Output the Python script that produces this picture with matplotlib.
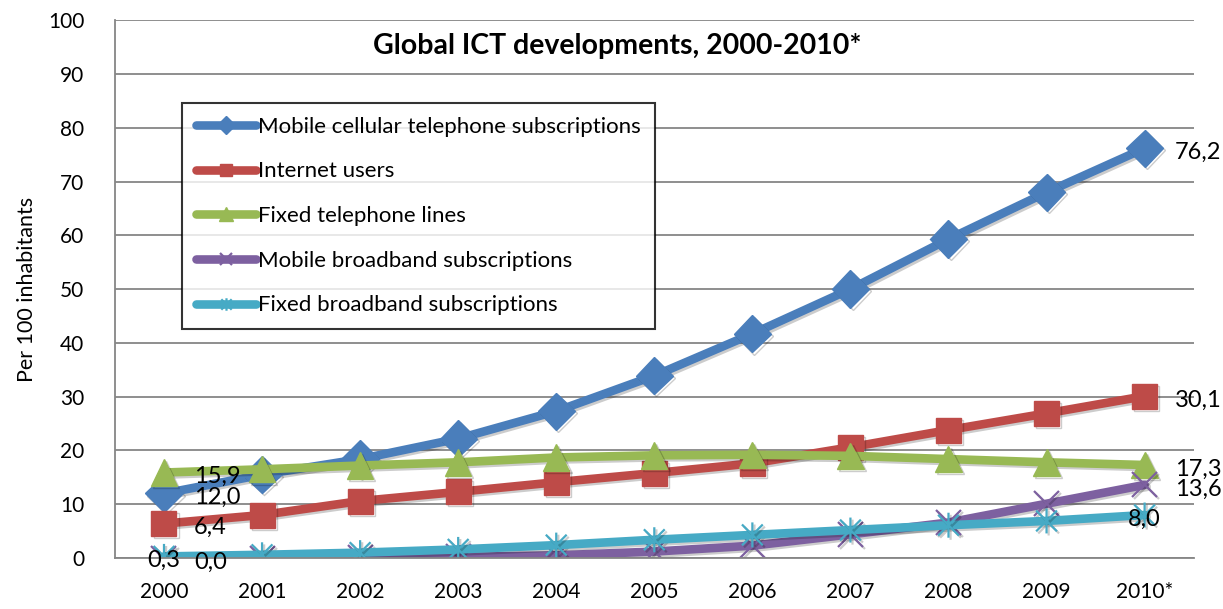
import numpy as np
import matplotlib
matplotlib.use('Agg')
import matplotlib.pyplot as plt
import matplotlib.patheffects as pe
from matplotlib.path import Path

plt.rcParams['font.family'] = ['Lato', 'DejaVu Sans']

years = ['2000', '2001', '2002', '2003', '2004', '2005', '2006', '2007', '2008', '2009', '2010*']

mobile = [12.0, 15.5, 18.4, 22.2, 27.3, 33.9, 41.7, 50.0, 59.3, 68.0, 76.2]
internet = [6.4, 8.0, 10.6, 12.3, 14.1, 15.8, 17.6, 20.6, 23.8, 26.9, 30.1]
fixed_tel = [15.9, 16.5, 17.2, 17.8, 18.7, 19.1, 19.2, 19.0, 18.4, 17.8, 17.3]
mob_bb = [0.0, 0.0, 0.1, 0.2, 0.5, 1.2, 2.3, 4.4, 6.6, 10.1, 13.6]
fix_bb = [0.3, 0.6, 1.0, 1.6, 2.4, 3.4, 4.3, 5.2, 6.1, 6.9, 8.0]

names = ['Mobile cellular telephone subscriptions', 'Internet users',
         'Fixed telephone lines', 'Mobile broadband subscriptions',
         'Fixed broadband subscriptions']
colors = ['#4A7EBB', '#BE4B48', '#98B954', '#7D60A0', '#46AAC5']

# excel style star: an x with a vertical bar through it
star = Path([(-1, -1), (1, 1), (-1, 1), (1, -1), (0, -1.2), (0, 1.2)],
            [Path.MOVETO, Path.LINETO, Path.MOVETO, Path.LINETO, Path.MOVETO, Path.LINETO])

x = np.arange(len(years))

fig = plt.figure(figsize=(12.23, 6.09), dpi=100)
ax = fig.add_axes([0.094, 0.0837, 0.882, 0.883])

shadow = [pe.SimpleLineShadow(offset=(1.5, -1.5), alpha=0.2, shadow_color='black'), pe.Normal()]

series = [mobile, internet, fixed_tel, mob_bb, fix_bb]
mk = ['D', 's', '^', 'x', star]
ms = [19, 18, 19, 18, 18]
for vals, nm, c, m, s in zip(series, names, colors, mk, ms):
    thin = (m == 'x') or (m is star)
    ax.plot(x, vals, color=c, lw=6.2, marker=m, ms=s, mew=1.6 if thin else 1.0,
            mec=c, label=nm, path_effects=shadow, solid_capstyle='round')

# data labels
lab_fs = 17
def lab(i, v, txt, dx=21.6):
    ax.annotate(txt, (x[i], v), xytext=(dx, -3), textcoords='offset points',
                ha='left' if dx else 'center', va='center', fontsize=lab_fs)

lab(0, fixed_tel[0], '15,9')
lab(0, mobile[0], '12,0')
lab(0, internet[0], '6,4')
lab(0, fix_bb[0], '0,3', dx=0)
lab(0, mob_bb[0], '0,0')
lab(10, mobile[10], '76,2')
lab(10, internet[10], '30,1')
lab(10, fixed_tel[10], '17,3')
lab(10, mob_bb[10], '13,6')
lab(10, fix_bb[10], '8,0', dx=0)

ax.set_xlim(-0.5, 10.5)
ax.set_ylim(0, 100)
ax.set_yticks(np.arange(0, 101, 10))
ax.set_xticks(x)
ax.set_xticklabels(years)
ax.tick_params(axis='both', labelsize=15, length=0, colors='black')
ax.tick_params(axis='y', pad=22)
ax.tick_params(axis='x', pad=17)
ax.grid(axis='y', color='#868686', lw=1.3)
ax.set_axisbelow(True)
for sp in ['top', 'right']:
    ax.spines[sp].set_visible(False)
ax.spines['left'].set_color('#868686')
ax.spines['bottom'].set_color('#868686')
ax.spines['left'].set_linewidth(1.3)
ax.spines['bottom'].set_linewidth(1.3)

ax.set_ylabel('Per 100 inhabitants', fontsize=15.5, labelpad=8)

fig.text(0.505, 0.925, 'Global ICT developments, 2000-2010*', ha='center', va='center',
         fontsize=20.5, fontweight='bold')

leg = ax.legend(loc='upper left', bbox_to_anchor=(0.1488, 0.8309), bbox_transform=fig.transFigure,
                fontsize=16, frameon=True, fancybox=False, edgecolor='black',
                markerscale=0.5, handlelength=2.7, handletextpad=0.1, labelspacing=1.11,
                borderpad=0.62, borderaxespad=0)
leg.get_frame().set_linewidth(1.5)
for h in leg.get_lines():
    h.set_path_effects([])

fig.savefig('out.png', dpi=100)
